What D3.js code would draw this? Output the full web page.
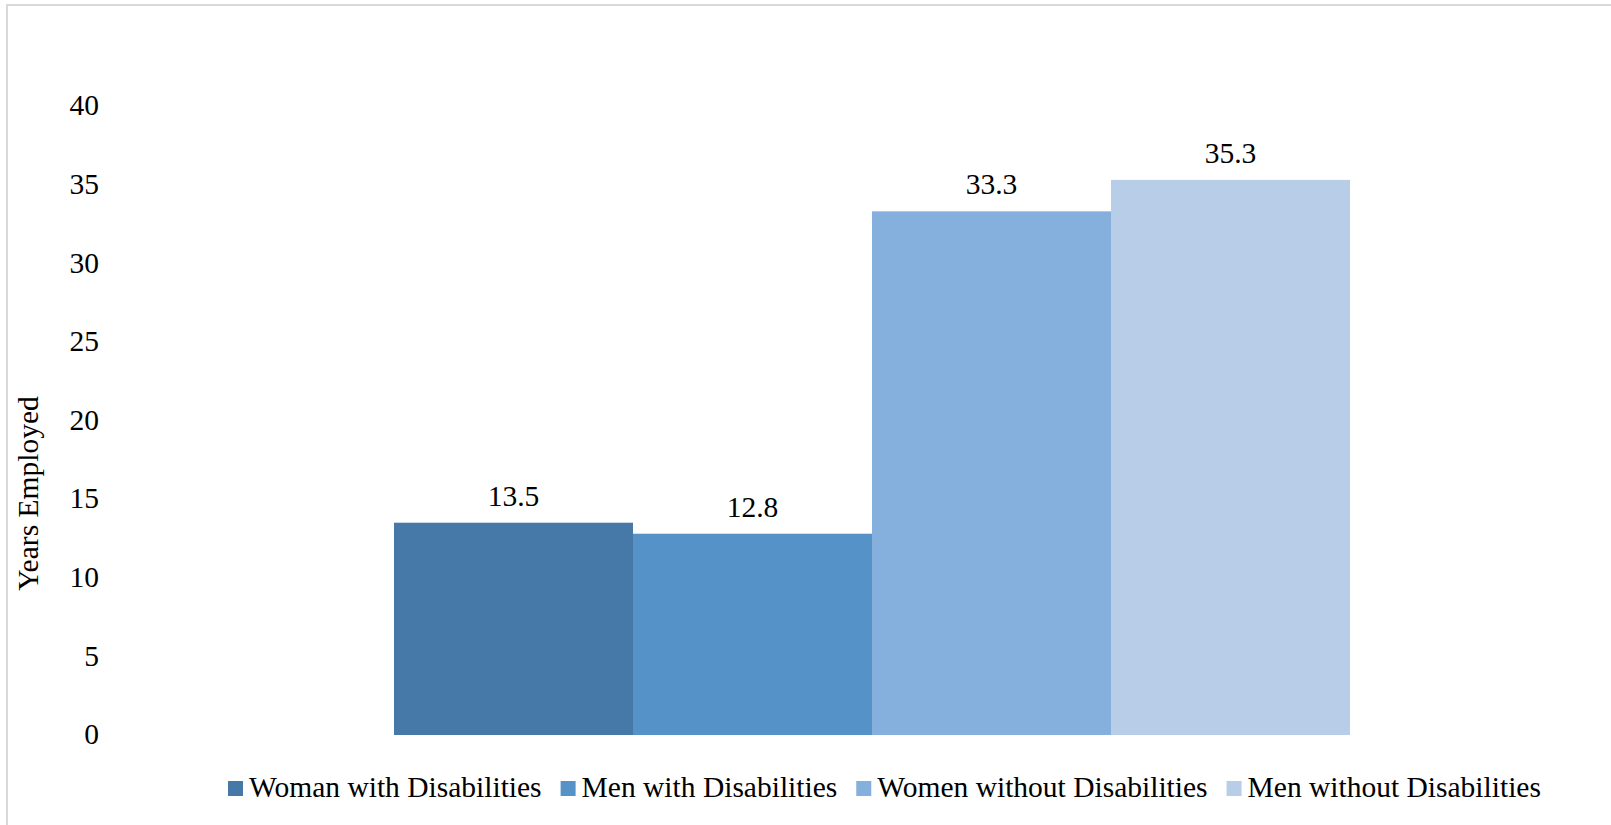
<!DOCTYPE html>
<html>
<head>
<meta charset="utf-8">
<script src="https://cdn.jsdelivr.net/npm/d3@7"></script>
<style>
  html, body { margin: 0; padding: 0; background: #fff; overflow: hidden; }
  svg { display: block; }
  text { font-family: "Liberation Serif", "Times New Roman", serif; fill: #000; }
</style>
</head>
<body>
<svg id="chart" width="1611" height="825"></svg>
<script>
const series = ["Woman with Disabilities", "Men with Disabilities", "Women without Disabilities", "Men without Disabilities"];
const values = [13.5, 12.8, 33.3, 35.3];
const colors = ["#4779a8", "#5592c8", "#85afdc", "#b8cde8"];
const yTicks = [0, 5, 10, 15, 20, 25, 30, 35, 40];
const yTitle = "Years Employed";

const svg = d3.select("#chart");
const W = 1611, H = 825;
const fontSize = 29.5;
const legendFontSize = 29.5;

// outer frame (extends beyond the viewport at right and bottom)
svg.append("rect")
  .attr("x", 7).attr("y", 5)
  .attr("width", W + 50).attr("height", H + 50)
  .attr("fill", "none").attr("stroke", "#d9d9d9").attr("stroke-width", 2);

const x = d3.scaleBand().domain(series).range([394, 1350]).padding(0);
const y = d3.scaleLinear().domain([0, 40]).range([735, 106]);

// y axis (labels only)
const yAxis = d3.axisLeft(y).tickValues(yTicks).tickSize(0).tickPadding(0).tickFormat(d3.format("d"));
const gy = svg.append("g").attr("transform", "translate(99,0)").call(yAxis);
gy.select(".domain").remove();
gy.selectAll("text")
  .attr("font-size", fontSize)
  .attr("font-family", '"Liberation Serif", "Times New Roman", serif')
  .attr("fill", "#000")
  .attr("dy", "0.3em");

// y title
svg.append("text")
  .attr("transform", `translate(38, ${(396 + 591) / 2}) rotate(-90)`)
  .attr("text-anchor", "middle")
  .attr("font-size", fontSize)
  .text(yTitle);

// bars
svg.append("g").selectAll("rect")
  .data(series)
  .join("rect")
  .attr("x", d => x(d))
  .attr("width", x.bandwidth())
  .attr("y", (d, i) => y(values[i]))
  .attr("height", (d, i) => y(0) - y(values[i]))
  .attr("fill", (d, i) => colors[i]);

// data labels
svg.append("g").selectAll("text")
  .data(series)
  .join("text")
  .attr("x", d => x(d) + x.bandwidth() / 2)
  .attr("y", (d, i) => y(values[i]) - 17)
  .attr("text-anchor", "middle")
  .attr("font-size", fontSize)
  .text((d, i) => d3.format(".1f")(values[i]));

// legend
const legend = svg.append("g");
let lx = 228;
series.forEach((s, i) => {
  legend.append("rect")
    .attr("x", lx).attr("y", 781)
    .attr("width", 15).attr("height", 15)
    .attr("fill", colors[i]);
  const t = legend.append("text")
    .attr("x", lx + 21).attr("y", 797)
    .attr("font-size", legendFontSize)
    .text(s);
  const w = t.node().getComputedTextLength();
  lx = lx + 21 + w + 19;
});
</script>
</body>
</html>
